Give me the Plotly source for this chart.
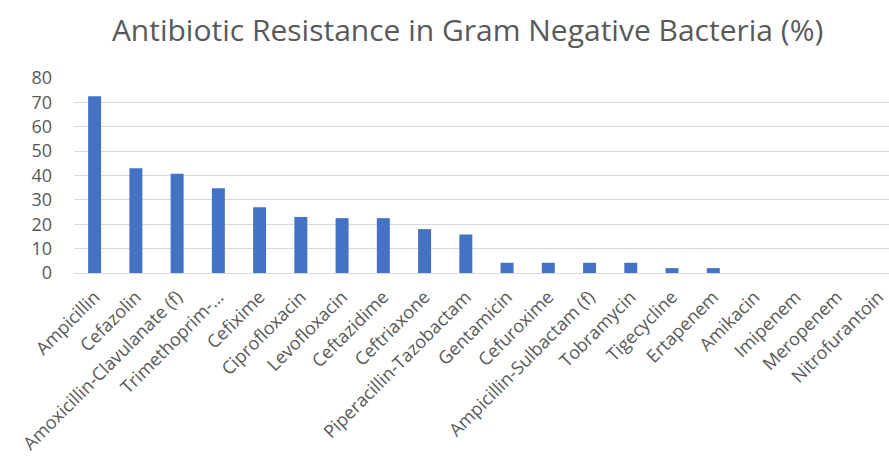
import plotly.graph_objects as go

antibiotics = [
    "Ampicillin", "Cefazolin", "Amoxicillin-Clavulanate (f)", "Trimethoprim-...",
    "Cefixime", "Ciprofloxacin", "Levofloxacin", "Ceftazidime", "Ceftriaxone",
    "Piperacillin-Tazobactam", "Gentamicin", "Cefuroxime", "Ampicillin-Sulbactam (f)",
    "Tobramycin", "Tigecycline", "Ertapenem", "Amikacin", "Imipenem", "Meropenem",
    "Nitrofurantoin",
]
resistance_pct = [
    72.5, 43.0, 40.7, 34.8, 27.0, 23.0, 22.5, 22.5, 18.0, 15.8,
    4.2, 4.2, 4.2, 4.2, 2.0, 2.0, 0, 0, 0, 0,
]
y_ticks = [0, 10, 20, 30, 40, 50, 60, 70, 80]

text_color = "#595959"
font_family = "Open Sans, Noto Sans, sans-serif"

fig = go.Figure(
    go.Bar(
        x=list(range(len(antibiotics))),
        y=resistance_pct,
        marker=dict(color="#4472C4", line=dict(width=0)),
        hoverinfo="x+y",
    )
)

fig.update_layout(
    width=889,
    height=465,
    margin=dict(l=74, r=0, t=78, b=192, pad=0),
    paper_bgcolor="white",
    plot_bgcolor="white",
    bargap=0.685,
    showlegend=False,
    title=dict(
        text="Antibiotic Resistance in Gram Negative Bacteria (%)",
        font=dict(family=font_family, size=30, color=text_color),
        x=0.526, xref="container", xanchor="center",
        y=0.935, yref="container", yanchor="middle",
    ),
    font=dict(family=font_family, color=text_color),
)

fig.update_xaxes(
    tickmode="array",
    tickvals=list(range(len(antibiotics))),
    ticktext=antibiotics,
    tickangle=-45,
    tickfont=dict(size=18, color=text_color),
    range=[-0.5, 19.26],
    showgrid=False,
    showline=False,
    zeroline=False,
    ticks="",
    ticklabelstandoff=9,
)

fig.update_yaxes(
    range=[0, 80],
    tickvals=y_ticks,
    tickfont=dict(size=18, color=text_color),
    showgrid=True,
    gridcolor="#D9D9D9",
    gridwidth=1,
    zeroline=True,
    zerolinecolor="#D9D9D9",
    zerolinewidth=1,
    showline=False,
    ticks="",
    ticklabelstandoff=21,
)

fig.write_html("out.html")
